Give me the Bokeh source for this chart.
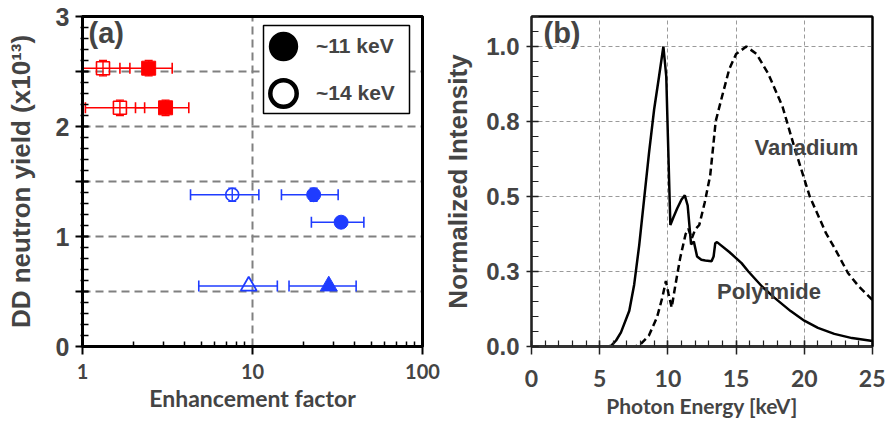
from bokeh.plotting import figure
from bokeh.models import (Range1d, FixedTicker, Whisker, TeeHead, ColumnDataSource,
                          Legend, LegendItem, Label, NumeralTickFormatter, BoxAnnotation,
                          LinearAxis)
from bokeh.layouts import row
from bokeh.embed import file_html
from bokeh.resources import INLINE

# ---------------- panel (a) data ----------------
sq_y = [2.53, 2.17]
sq11_x = [2.45, 3.08]
sq11_lo = [1.66, 2.05]
sq11_hi = [3.37, 4.22]
sq14_x = [1.32, 1.66]
sq14_lo = [0.9, 1.04]
sq14_hi = [1.9, 2.32]
sq_yerr = [0.07, 0.07]

circ11_y = [1.38, 1.13]
circ11_x = [22.9, 33.2]
circ11_lo = [14.8, 22.2]
circ11_hi = [31.9, 45.2]
circ11_yerr = [0.06, 0.0]
circ14_y = [1.38]
circ14_x = [7.6]
circ14_lo = [4.32]
circ14_hi = [10.9]
circ14_yerr = [0.06]

tri_y = [0.55]
tri11_x = [28.1]
tri11_lo = [16.4]
tri11_hi = [40.7]
tri14_x = [9.5]
tri14_lo = [4.83]
tri14_hi = [14.0]

y_ticks_a = [0, 0.5, 1, 1.5, 2, 2.5, 3]
x_ticks_a = [1, 10, 100]

# ---------------- panel (b) data ----------------
pol_e = [0, 5.6, 5.85, 6.2, 6.56, 7.17, 7.53, 7.9, 8.26, 8.62, 8.99, 9.35, 9.67, 9.88,
         10.0, 10.18, 10.4, 10.68, 11.0, 11.24, 11.45, 11.7, 11.9, 12.14, 12.45, 12.74,
         13.2, 13.35, 13.47, 13.6, 14.5, 15.4, 15.9, 16.9, 17.8, 19.0, 20.0, 21.0, 22.2,
         23.5, 25.0]
pol_i = [0, 0, 0.003, 0.02, 0.047, 0.119, 0.207, 0.339, 0.493, 0.647, 0.79, 0.9, 1.0, 0.9,
         0.7, 0.405, 0.43, 0.46, 0.49, 0.504, 0.47, 0.34, 0.35, 0.3, 0.289, 0.287,
         0.284, 0.3, 0.344, 0.348, 0.315, 0.278, 0.25, 0.2, 0.163, 0.118, 0.086, 0.062, 0.042,
         0.028, 0.018]

van_e = [0, 7.6, 8.0, 8.6, 9.2, 9.6, 9.85, 10.05, 10.28, 10.55, 10.9, 11.3, 11.5, 11.75,
         12.0, 12.3, 12.7, 13.1, 13.35, 13.5, 13.95, 14.5, 15.0, 15.75, 16.5, 17.35, 18.4,
         19.3, 20.4, 21.6, 22.2, 23.2, 24.0, 25.0]
van_i = [0, 0, 0.008, 0.036, 0.097, 0.165, 0.218, 0.175, 0.13, 0.205, 0.295, 0.375, 0.392,
         0.36, 0.39, 0.405, 0.48, 0.57, 0.68, 0.75, 0.83, 0.925, 0.975, 1.0, 0.975, 0.91, 0.8,
         0.66, 0.5, 0.377, 0.33, 0.245, 0.2, 0.155]

y_ticks_b = [0, 0.25, 0.5, 0.75, 1.0]
y_labels_b = ["0.0", "0.3", "0.5", "0.8", "1.0"]
x_ticks_b = [0, 5, 10, 15, 20, 25]

RED = "#ff0000"
BLUE = "#1f3cff"
ARIAL = "Liberation Sans"
CALIBRI = "Lato"
NAN = float("nan")


def frame_edges(fig, width, color):
    for side in ("above", "right"):
        ax = LinearAxis(ticker=FixedTicker(ticks=[]), axis_line_width=width,
                        axis_line_color=color, major_tick_in=0, major_tick_out=0,
                        minor_tick_in=0, minor_tick_out=0,
                        major_label_text_font_size="0px")
        fig.add_layout(ax, side)


# ================= panel (a) =================
pa = figure(width=440, height=427, x_axis_type="log",
            x_range=Range1d(1, 100), y_range=Range1d(0, 3.0),
            output_backend="svg", toolbar_location=None,
            min_border_left=82, min_border_right=18, min_border_top=16, min_border_bottom=79)
pa.outline_line_color = "black"
pa.outline_line_width = 3
xa, ya = pa.xaxis[0], pa.yaxis[0]

xa.ticker = FixedTicker(ticks=x_ticks_a,
                        minor_ticks=[2, 3, 4, 5, 6, 7, 8, 9, 20, 30, 40, 50, 60, 70, 80, 90])
xa.formatter = NumeralTickFormatter(format="0")
ya.ticker = FixedTicker(ticks=y_ticks_a, minor_ticks=[i / 10 for i in range(31)])
ya.major_label_overrides = {0.5: "", 1.5: "", 2.5: "", 0: "0", 1: "1", 2: "2", 3: "3"}

pa.xgrid.ticker = FixedTicker(ticks=[10])
pa.ygrid.ticker = FixedTicker(ticks=[0.5, 1, 1.5, 2, 2.5])
for g in (pa.xgrid, pa.ygrid):
    g.grid_line_color = "#808080"
    g.grid_line_width = 2
    g.grid_line_dash = "8 5"

for ax in (xa, ya):
    ax.axis_line_width = 3
    ax.axis_line_color = "black"
    ax.major_tick_line_width = 2
    ax.minor_tick_line_width = 1.5
    ax.major_tick_line_color = "black"
    ax.minor_tick_line_color = "black"

xa.major_tick_in = 0
xa.major_tick_out = 8
xa.minor_tick_in = 5
xa.minor_tick_out = 0
ya.major_tick_in = 6
ya.major_tick_out = 7
ya.minor_tick_in = 6
ya.minor_tick_out = 2

xa.major_label_text_font = CALIBRI
xa.major_label_text_font_style = "bold"
xa.major_label_text_font_size = "20px"
xa.major_label_standoff = 9
xa.axis_label = "Enhancement factor"
xa.axis_label_text_font = CALIBRI
xa.axis_label_text_font_style = "bold"
xa.axis_label_text_font_size = "23px"
xa.axis_label_standoff = 2

ya.major_label_text_font = ARIAL
ya.major_label_text_font_style = "bold"
ya.major_label_text_font_size = "25px"
ya.major_label_standoff = 6
ya.axis_label = "DD neutron yield (x10\u00b9\u00b3)"
ya.axis_label_text_font = ARIAL
ya.axis_label_text_font_style = "bold"
ya.axis_label_text_font_size = "26px"
ya.axis_label_standoff = 17


def xerr(fig, xs_lo, xs_hi, ys, color):
    src = ColumnDataSource(dict(y=ys, lo=xs_lo, hi=xs_hi))
    fig.add_layout(Whisker(source=src, base="y", lower="lo", upper="hi", dimension="width",
                           line_color=color, line_width=1.6,
                           upper_head=TeeHead(size=11, line_color=color, line_width=1.6),
                           lower_head=TeeHead(size=11, line_color=color, line_width=1.6)))


def yerr(fig, xs, ys, errs, color):
    lo = [y - e for y, e in zip(ys, errs)]
    hi = [y + e for y, e in zip(ys, errs)]
    src = ColumnDataSource(dict(x=xs, lo=lo, hi=hi))
    fig.add_layout(Whisker(source=src, base="x", lower="lo", upper="hi", dimension="height",
                           line_color=color, line_width=1.4,
                           upper_head=TeeHead(size=8, line_color=color, line_width=1.4),
                           lower_head=TeeHead(size=8, line_color=color, line_width=1.4)))


xerr(pa, sq14_lo, sq14_hi, sq_y, RED)
xerr(pa, sq11_lo, sq11_hi, sq_y, RED)
yerr(pa, sq14_x, sq_y, sq_yerr, RED)
yerr(pa, sq11_x, sq_y, sq_yerr, RED)
xerr(pa, circ14_lo, circ14_hi, circ14_y, BLUE)
xerr(pa, circ11_lo, circ11_hi, circ11_y, BLUE)
yerr(pa, circ14_x, circ14_y, circ14_yerr, BLUE)
yerr(pa, circ11_x, circ11_y, circ11_yerr, BLUE)
xerr(pa, tri14_lo, tri14_hi, tri_y, BLUE)
xerr(pa, tri11_lo, tri11_hi, tri_y, BLUE)

pa.scatter(sq11_x, sq_y, marker="square", size=14, fill_color=RED, line_color=RED, line_width=1)
pa.scatter(sq14_x, sq_y, marker="square", size=13, fill_alpha=0, line_color=RED, line_width=1.6)
pa.scatter(circ11_x, circ11_y, marker="circle", size=14, fill_color=BLUE, line_color=BLUE, line_width=1)
pa.scatter(circ14_x, circ14_y, marker="circle", size=13, fill_alpha=0, line_color=BLUE, line_width=1.6)
pa.scatter(tri11_x, tri_y, marker="triangle", size=17, fill_color=BLUE, line_color=BLUE, line_width=1)
pa.scatter(tri14_x, tri_y, marker="triangle", size=16, fill_alpha=0, line_color=BLUE, line_width=1.8)

# legend frame (white box) and two one-item legends with big markers
pa.add_layout(BoxAnnotation(left=181, right=327, top=321, bottom=233,
                            left_units="screen", right_units="screen",
                            top_units="screen", bottom_units="screen",
                            fill_color="white", fill_alpha=1,
                            line_color="black", line_alpha=1, line_width=1.5))
leg11 = pa.scatter(x=[NAN], y=[NAN], marker="circle", fill_color="black",
                   line_color="black", line_width=3)
leg14 = pa.scatter(x=[NAN], y=[NAN], marker="circle", fill_color="white",
                   line_color="black", line_width=4.5)
for rend, lab, loc in ((leg11, "~11 keV", (168, 267)), (leg14, "~14 keV", (168, 220))):
    pa.add_layout(Legend(items=[LegendItem(label=lab, renderers=[rend])],
                         location=loc, orientation="vertical", margin=0,
                         glyph_width=66, glyph_height=66, padding=0, spacing=0,
                         label_standoff=0,
                         label_text_font=ARIAL, label_text_font_style="bold",
                         label_text_font_size="21px", label_text_baseline="middle",
                         border_line_alpha=0, background_fill_alpha=0), "center")

pa.add_layout(Label(x=6, y=330, x_units="screen", y_units="screen", text="(a)",
                    text_font=ARIAL, text_font_style="bold", text_font_size="29px",
                    text_baseline="top"))
frame_edges(pa, 3, "black")

# ================= panel (b) =================
pb = figure(width=445, height=427, x_range=Range1d(0, 25), y_range=Range1d(0, 1.1),
            output_backend="svg", toolbar_location=None,
            min_border_left=88, min_border_right=13, min_border_top=13, min_border_bottom=81)
pb.outline_line_color = "black"
pb.outline_line_width = 2
xb, yb = pb.xaxis[0], pb.yaxis[0]

xb.ticker = FixedTicker(ticks=x_ticks_b, minor_ticks=list(range(26)))
yb.ticker = FixedTicker(ticks=y_ticks_b, minor_ticks=[i / 20 for i in range(23)])
yb.major_label_overrides = {t: l for t, l in zip(y_ticks_b, y_labels_b)}
pb.xgrid.ticker = FixedTicker(ticks=[5, 10, 15, 20])
pb.ygrid.ticker = FixedTicker(ticks=[0.25, 0.5, 0.75, 1.0])
for g in (pb.xgrid, pb.ygrid):
    g.grid_line_color = "#9a9a9a"
    g.grid_line_width = 1
    g.grid_line_dash = "4 3"

xb.axis_line_width = 3
xb.axis_line_color = "#333333"
yb.axis_line_width = 2
yb.axis_line_color = "#222222"
for ax in (xb, yb):
    ax.major_tick_line_width = 1.5
    ax.minor_tick_line_width = 1.2
    ax.major_tick_line_color = "#222222"
    ax.minor_tick_line_color = "#222222"
xb.major_tick_in = 6
xb.major_tick_out = 8
xb.minor_tick_in = 6
xb.minor_tick_out = 0
yb.major_tick_in = 7
yb.major_tick_out = 5
yb.minor_tick_in = 7
yb.minor_tick_out = 0

xb.major_label_text_font = CALIBRI
xb.major_label_text_font_style = "bold"
xb.major_label_text_font_size = "23px"
xb.major_label_standoff = 15
xb.axis_label = "Photon Energy [keV]"
xb.axis_label_text_font = CALIBRI
xb.axis_label_text_font_style = "bold"
xb.axis_label_text_font_size = "21px"
xb.axis_label_standoff = 3

yb.major_label_text_font = ARIAL
yb.major_label_text_font_style = "bold"
yb.major_label_text_font_size = "24px"
yb.major_label_standoff = 7
yb.axis_label = "Normalized Intensity"
yb.axis_label_text_font = ARIAL
yb.axis_label_text_font_style = "bold"
yb.axis_label_text_font_size = "26px"
yb.axis_label_standoff = 10

pb.line(pol_e, pol_i, line_color="black", line_width=2.5)
pb.line(van_e, van_i, line_color="black", line_width=2.5, line_dash="7 4")

pb.add_layout(Label(x=16.35, y=0.665, text="Vanadium", text_font=ARIAL,
                    text_font_style="bold", text_font_size="22px", text_baseline="alphabetic"))
pb.add_layout(Label(x=13.6, y=0.185, text="Polyimide", text_font=ARIAL,
                    text_font_style="bold", text_font_size="22px", text_baseline="alphabetic"))
pb.add_layout(Label(x=12, y=330, x_units="screen", y_units="screen", text="(b)",
                    text_font=ARIAL, text_font_style="bold", text_font_size="29px",
                    text_baseline="top"))
frame_edges(pb, 2, "black")

layout = row(pa, pb)
open("out.html", "w").write(file_html(layout, INLINE))
